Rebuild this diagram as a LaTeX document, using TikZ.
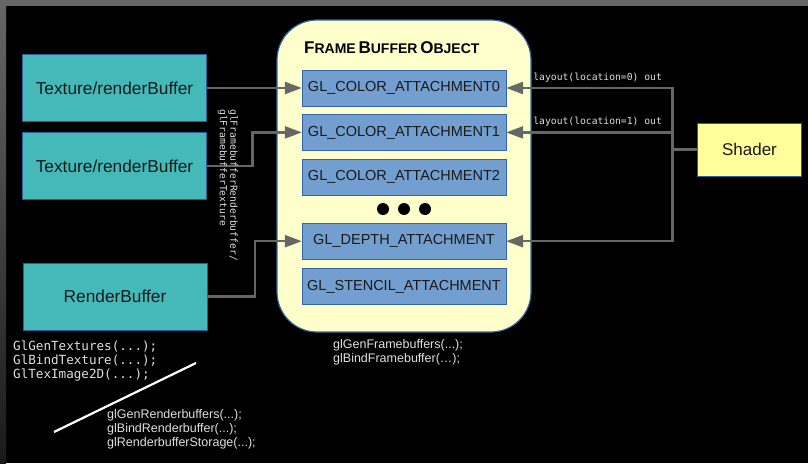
\documentclass[tikz,border=0pt]{standalone}
\usepackage{fontspec}
\setmainfont{Liberation Sans}
\setmonofont{DejaVu Sans Mono}
\usetikzlibrary{arrows.meta, positioning, calc}
\usepackage{xcolor}
\definecolor{bufteal}{RGB}{69,184,184}
\definecolor{edgeblue}{RGB}{42,96,153}
\definecolor{attfill}{RGB}{114,159,207}
\definecolor{attblue}{RGB}{52,101,164}
\definecolor{fbofill}{RGB}{255,255,204}
\definecolor{shadyellow}{RGB}{255,255,153}
\definecolor{wiregray}{RGB}{102,102,102}
\definecolor{codegray}{RGB}{224,224,224}
\definecolor{framegray}{RGB}{102,102,102}
\definecolor{framedark}{RGB}{26,26,26}

% big first letter, smaller rest (small caps look)
\newcommand{\fbocap}[2]{{\fontsize{17}{20}\selectfont #1}{\fontsize{14}{17}\selectfont #2}}

\begin{document}
\begin{tikzpicture}[
  x = 1pt, y = -1pt,
  node distance = 8pt,
  %
  % ── Node styles ─────────────────────────────────────────────────
  buffer/.style    = {draw=edgeblue, fill=bufteal, text=black!90,
                      minimum width=184pt, minimum height=67pt, inner sep=0pt,
                      font=\fontsize{17.3}{20}\selectfont},
  attach/.style    = {draw=attblue, fill=attfill, text=black!90,
                      minimum width=204pt, minimum height=36pt, inner sep=0pt,
                      font=\fontsize{14.5}{17}\selectfont},
  fbo/.style       = {draw=attblue, fill=fbofill, line width=1.2pt,
                      rounded corners=40pt, minimum width=254pt,
                      minimum height=312pt},
  shaderbox/.style = {draw=edgeblue, fill=shadyellow, text=black!90,
                      minimum width=104pt, minimum height=53pt, inner sep=0pt,
                      font=\fontsize{17}{20}\selectfont},
  code/.style      = {text=codegray, align=left, inner sep=0pt,
                      font=\ttfamily\fontsize{12.6}{14}\selectfont},
  smallcode/.style = {code, font=\ttfamily\fontsize{9.7}{10.5}\selectfont},
  call/.style      = {text=codegray, align=left, inner sep=0pt,
                      font=\fontsize{12.5}{14}\selectfont},
  arrow/.style     = {-{Triangle[length=17pt, width=12pt]}, draw=wiregray,
                      line width=2.5pt},
  wire/.style      = {draw=wiregray, line width=2.5pt},
]

%% ═══════════════════════════════════════════════════════════════════
%% Canvas
%% ═══════════════════════════════════════════════════════════════════
\useasboundingbox (0,0) rectangle (808,463);
\fill[black] (0,0) rectangle (808,463);
\shade[top color=framegray, bottom color=framedark] (0,0) rectangle (6,463);
\fill[framegray] (0,0) rectangle (808,6);

%% ═══════════════════════════════════════════════════════════════════
%% Frame buffer object with its attachment points
%% ═══════════════════════════════════════════════════════════════════
\node[fbo] (fbo) at (404,176) {};
\node[anchor=base west, inner sep=0pt, font=\bfseries] (fbo-title) at (304,53)
  {\fbocap{F}{RAME} \fbocap{B}{UFFER} \fbocap{O}{BJECT}};

\node[attach] (ca0) at (404,88) {GL\_COLOR\_ATTACHMENT0};
\node[attach, below=of ca0] (ca1) {GL\_COLOR\_ATTACHMENT1};
\node[attach, below=of ca1] (ca2) {GL\_COLOR\_ATTACHMENT2};
\node[attach, below=28pt of ca2] (depth) {GL\_DEPTH\_ATTACHMENT};
\node[attach, below=9pt of depth] (stencil) {GL\_STENCIL\_ATTACHMENT};

% more colour attachments
\foreach \dx in {-21,0,21}
  \fill[black] ($(ca2.south)!0.5!(depth.north)+(\dx,0)$) circle[radius=6pt];

\node[call, anchor=north west] (fbo-calls) at (333,339)
  {glGenFramebuffers(...);\\glBindFramebuffer(…);};

%% ═══════════════════════════════════════════════════════════════════
%% Left side — images that get attached
%% ═══════════════════════════════════════════════════════════════════
\node[buffer] (tex1) at (114.5,88) {Texture/renderBuffer};
\node[buffer] (tex2) at (114.5,166) {Texture/renderBuffer};
\node[buffer] (rb)   at (115,296.5) {RenderBuffer};

\draw[arrow] (tex1.east) -- (ca0.west);
\draw[arrow] (tex2.east) -- ++(46,0) |- (ca1.west);
\draw[arrow] (rb.east)   -- ++(48,0) |- (depth.west);

\node[smallcode, rotate=-90, anchor=north west] (attach-calls) at (238,109)
  {glFramebufferRenderbuffer/\\glFramebufferTexture};

\node[code, anchor=north west] (tex-calls) at (13,341)
  {GlGenTextures(...);\\GlBindTexture(...);\\GlTexImage2D(...);};
\node[call, anchor=north west] (rb-calls) at (107,409)
  {glGenRenderbuffers(...);\\glBindRenderbuffer(...);\\glRenderbufferStorage(...);};

% strike between the two call groups
\coordinate (strike-a) at (54,432);
\coordinate (strike-b) at (196,363);
\draw[white, line width=2.2pt] (strike-a) -- (strike-b);

%% ═══════════════════════════════════════════════════════════════════
%% Right side — shader outputs
%% ═══════════════════════════════════════════════════════════════════
\node[shaderbox] (shader) at (749.5,149.5) {Shader};
\coordinate (bus) at ($(shader.west)+(-25,0)$);

\draw[wire]  (shader.west) -- (bus);
\draw[arrow] (bus) |- (ca0.east);
\draw[arrow] (bus) |- (ca1.east);
\draw[arrow] (bus) |- (depth.east);

\node[smallcode, anchor=base west] (out0) at ($(ca0.east)+(27,-8)$)
  {layout(location=0) out};
\node[smallcode, anchor=base west] (out1) at ($(ca1.east)+(27,-8)$)
  {layout(location=1) out};

\end{tikzpicture}
\end{document}
